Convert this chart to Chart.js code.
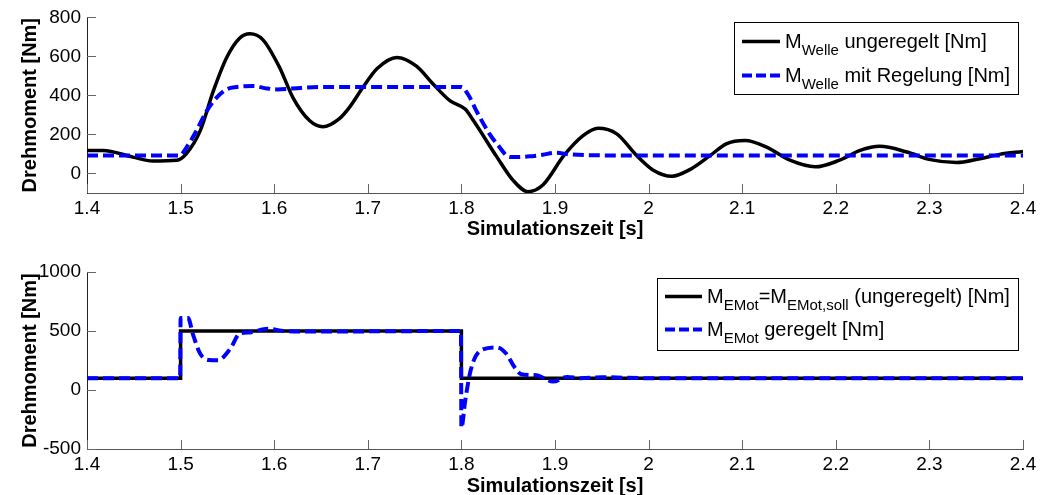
<!DOCTYPE html>
<html>
<head>
<meta charset="utf-8">
<script src="https://cdn.jsdelivr.net/npm/chart.js@4.4.0/dist/chart.umd.min.js"></script>
<style>
body{margin:0;background:#fff;overflow:hidden;width:1042px;height:495px;position:relative}
canvas{position:absolute;left:0}
</style>
</head>
<body>
<canvas id="oben" width="1042" height="245" style="top:0"></canvas>
<canvas id="unten" width="1042" height="255" style="top:245px"></canvas>
<script>
// Achsen
const xTicks = [1.4, 1.5, 1.6, 1.7, 1.8, 1.9, 2.0, 2.1, 2.2, 2.3, 2.4];
const xTickLabels = ['1.4', '1.5', '1.6', '1.7', '1.8', '1.9', '2', '2.1', '2.2', '2.3', '2.4'];
const yTicksOben = [0, 200, 400, 600, 800];
const yTicksUnten = [-500, 0, 500, 1000];

// oben: M_Welle ungeregelt
const tWelleU = [1.4, 1.417, 1.449, 1.47, 1.496, 1.506, 1.521, 1.535, 1.549, 1.563, 1.574, 1.588, 1.606, 1.62, 1.638, 1.652, 1.67, 1.681, 1.695, 1.71, 1.731, 1.752, 1.77, 1.788, 1.804, 1.813, 1.838, 1.855, 1.871, 1.887, 1.91, 1.93, 1.946, 1.966, 1.987, 2.005, 2.025, 2.044, 2.066, 2.083, 2.103, 2.126, 2.151, 2.178, 2.204, 2.226, 2.247, 2.276, 2.301, 2.329, 2.354, 2.375, 2.4];
const mWelleU = [118, 118, 84, 64, 68, 101, 220, 423, 592, 693, 716, 685, 541, 389, 270, 240, 283, 343, 443, 538, 595, 550, 457, 372, 330, 270, 84, -34, -93, -59, 95, 194, 232, 203, 93, 17, -14, 20, 93, 152, 169, 135, 68, 34, 68, 118, 139, 110, 71, 56, 76, 98, 113];

// oben: M_Welle mit Regelung
const tWelleR = [1.4, 1.499, 1.5065, 1.517, 1.528, 1.5385, 1.549, 1.56, 1.578, 1.592, 1.603, 1.62, 1.652, 1.8, 1.807, 1.816, 1.83, 1.838, 1.852, 1.873, 1.887, 1.9, 1.916, 1.937, 2.0, 2.4];
const mWelleR = [92, 92, 135, 220, 321, 389, 431, 443, 448, 436, 431, 436, 443, 443, 406, 321, 203, 152, 84, 88, 96, 106, 98, 94, 92, 92];

// unten: M_EMot ungeregelt (Sprung)
const tEMotU = [1.4, 1.5, 1.5, 1.8, 1.8, 2.4];
const mEMotU = [100, 100, 500, 500, 100, 100];

// unten: M_EMot geregelt
const tEMotR = [1.4, 1.4995, 1.5, 1.508, 1.513, 1.521, 1.53, 1.54, 1.553, 1.563, 1.574, 1.593, 1.61, 1.63, 1.7995, 1.8, 1.804, 1.809, 1.813, 1.82, 1.838, 1.848, 1.857, 1.864, 1.88, 1.898, 1.913, 1.927, 1.95, 2.0, 2.4];
const mEMotR = [100, 100, 610, 610, 476, 307, 255, 253, 349, 477, 488, 520, 500, 495, 500, -320, -94, 136, 247, 332, 361, 307, 190, 134, 125, 71, 111, 100, 108, 100, 100];

const FONT = "'Liberation Sans', Arial, Helvetica, sans-serif";

function punkte(t, m) {
    return t.map((v, i) => ({x: v, y: m[i]}));
}

// Ticks nach innen wie in Matlab
const innenTicks = {
    id: 'innenTicks',
    beforeDatasetsDraw(chart) {
        const ctx = chart.ctx, x = chart.scales.x, y = chart.scales.y;
        ctx.save();
        ctx.strokeStyle = '#666';
        ctx.lineWidth = 1;
        ctx.beginPath();
        x.ticks.forEach(t => {
            const px = Math.round(x.getPixelForValue(t.value)) + 0.5;
            ctx.moveTo(px, y.bottom);
            ctx.lineTo(px, y.bottom - 9);
        });
        y.ticks.forEach(t => {
            const py = Math.round(y.getPixelForValue(t.value)) + 0.5;
            ctx.moveTo(x.left, py);
            ctx.lineTo(x.left + 9, py);
        });
        ctx.stroke();
        ctx.restore();
    }
};

// Legende mit Indizes
const mLegende = {
    id: 'mLegende',
    afterDraw(chart) {
        const o = chart.options.plugins.mLegende;
        if (!o) return;
        const ctx = chart.ctx;
        ctx.save();
        ctx.fillStyle = '#fff';
        ctx.fillRect(o.box[0], o.box[1], o.box[2], o.box[3]);
        ctx.strokeStyle = '#000';
        ctx.lineWidth = 1;
        ctx.strokeRect(o.box[0] + 0.5, o.box[1] + 0.5, o.box[2], o.box[3]);
        o.rows.forEach(r => {
            ctx.beginPath();
            ctx.strokeStyle = r.color;
            ctx.lineWidth = r.width;
            ctx.setLineDash(r.dash || []);
            ctx.moveTo(o.lineX[0], r.y);
            ctx.lineTo(o.lineX[1], r.y);
            ctx.stroke();
            ctx.setLineDash([]);
            let x = o.textX;
            ctx.fillStyle = '#000';
            ctx.textBaseline = 'alphabetic';
            r.parts.forEach(p => {
                if (p[1]) {
                    ctx.font = '15px ' + FONT;
                    ctx.fillText(p[0], x, r.y + 13.5);
                } else {
                    ctx.font = '20px ' + FONT;
                    ctx.fillText(p[0], x, r.y + 6);
                }
                x += ctx.measureText(p[0]).width;
            });
        });
        ctx.restore();
    }
};

function achsen(yMin, yMax, yTicks, xHoehe, titelPad) {
    return {
        x: {
            type: 'linear', min: 1.4, max: 2.4,
            afterBuildTicks: s => { s.ticks = xTicks.map(v => ({value: v})); },
            ticks: {callback: (v, i) => xTickLabels[i], font: {family: FONT, size: 19}, color: '#000', padding: 4, maxRotation: 0, autoSkip: false},
            grid: {display: false, drawTicks: false, tickLength: 0},
            border: {display: true, color: '#555', width: 1},
            title: {display: true, text: 'Simulationszeit [s]', color: '#000', font: {family: FONT, size: 20, weight: 'bold'}, padding: {top: 0, bottom: titelPad}},
            afterFit: s => { s.height = xHoehe; }
        },
        y: {
            min: yMin, max: yMax,
            afterBuildTicks: s => { s.ticks = yTicks.map(v => ({value: v})); },
            ticks: {callback: v => String(v), font: {family: FONT, size: 19}, color: '#000', padding: 6},
            grid: {display: false, drawTicks: false, tickLength: 0},
            border: {display: true, color: '#222', width: 1},
            title: {display: true, text: 'Drehmoment [Nm]', color: '#000', font: {family: FONT, size: 20, weight: 'bold'}, padding: {top: 18, bottom: 0}},
            afterFit: s => { s.width = 87; }
        }
    };
}

new Chart(document.getElementById('oben'), {
    type: 'line',
    data: {
        datasets: [
            {data: punkte(tWelleU, mWelleU), borderColor: '#000', borderWidth: 3.5, pointRadius: 0, cubicInterpolationMode: 'monotone', order: 2},
            {data: punkte(tWelleR, mWelleR), borderColor: '#0000ff', borderWidth: 4, borderDash: [11, 5], pointRadius: 0, cubicInterpolationMode: 'monotone', order: 1}
        ]
    },
    options: {
        responsive: false, animation: false, devicePixelRatio: 1,
        layout: {padding: {top: 16, right: 19, left: 0, bottom: 0}},
        scales: achsen(-100, 800, yTicksOben, 52, 4),
        plugins: {
            legend: {display: false}, tooltip: {enabled: false},
            mLegende: {
                box: [734, 22, 284, 72], lineX: [742, 780], textX: 785,
                rows: [
                    {y: 41.5, color: '#000', width: 3.5, parts: [['M'], ['Welle', 1], [' ungeregelt [Nm]']]},
                    {y: 75.5, color: '#0000ff', width: 4, dash: [10, 4], parts: [['M'], ['Welle', 1], [' mit Regelung [Nm]']]}
                ]
            }
        }
    },
    plugins: [innenTicks, mLegende]
});

new Chart(document.getElementById('unten'), {
    type: 'line',
    data: {
        datasets: [
            {data: punkte(tEMotU, mEMotU), borderColor: '#000', borderWidth: 3.5, pointRadius: 0, tension: 0, order: 2},
            {data: punkte(tEMotR, mEMotR), borderColor: '#0000ff', borderWidth: 4, borderDash: [11, 5], pointRadius: 0, cubicInterpolationMode: 'monotone', order: 1}
        ]
    },
    options: {
        responsive: false, animation: false, devicePixelRatio: 1,
        layout: {padding: {top: 27, right: 19, left: 0, bottom: 0}},
        scales: achsen(-500, 1000, yTicksUnten, 51, 2),
        plugins: {
            legend: {display: false}, tooltip: {enabled: false},
            mLegende: {
                box: [657, 33, 361, 72], lineX: [665, 702], textX: 707,
                rows: [
                    {y: 51.5, color: '#000', width: 3.5, parts: [['M'], ['EMot', 1], ['=M'], ['EMot,soll', 1], [' (ungeregelt) [Nm]']]},
                    {y: 84.5, color: '#0000ff', width: 4, dash: [10, 4], parts: [['M'], ['EMot', 1], [' geregelt [Nm]']]}
                ]
            }
        }
    },
    plugins: [innenTicks, mLegende]
});
</script>
</body>
</html>
